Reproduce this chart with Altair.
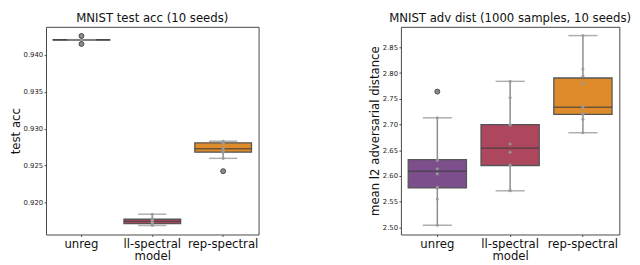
import altair as alt
import numpy as np
import pandas as pd

models = ["unreg", "ll-spectral", "rep-spectral"]
colors = ["#7c4f8c", "#ad475e", "#de8b2b"]

# MNIST test accuracy, 10 seeds per model
acc_unreg = [0.94148, 0.94199, 0.94201, 0.94202, 0.94203, 0.94203, 0.94204, 0.94205, 0.94206, 0.94257]
acc_ll = [0.91692, 0.91705, 0.91715, 0.91727, 0.91745, 0.91749, 0.91770, 0.91778, 0.91790, 0.91844]
acc_rep = [0.92426, 0.92600, 0.92680, 0.92696, 0.92720, 0.92740, 0.92805, 0.92812, 0.92820, 0.92832]

# mean l2 adversarial distance, 10 seeds per model
dist_unreg = [2.504, 2.555, 2.576, 2.578, 2.604, 2.614, 2.630, 2.632, 2.713, 2.764]
dist_ll = [2.571, 2.572, 2.620, 2.621, 2.646, 2.662, 2.699, 2.700, 2.752, 2.784]
dist_rep = [2.684, 2.710, 2.719, 2.722, 2.732, 2.735, 2.780, 2.794, 2.808, 2.873]

acc_ticks = [0.920, 0.925, 0.930, 0.935, 0.940]
dist_ticks = [2.50, 2.55, 2.60, 2.65, 2.70, 2.75, 2.80, 2.85]

FONT = "DejaVu Sans"
H = 213


def frames(series):
    raw, st, out = [], [], []
    for m, vals in zip(models, series):
        a = np.array(vals)
        q1, med, q3 = np.percentile(a, [25, 50, 75])
        iqr = q3 - q1
        inside = a[(a >= q1 - 1.5 * iqr) & (a <= q3 + 1.5 * iqr)]
        lo, hi = inside.min(), inside.max()
        st.append(dict(model=m, q1=q1, med=med, q3=q3, lo=lo, hi=hi))
        for v in a:
            raw.append(dict(model=m, value=v))
            if v < lo or v > hi:
                out.append(dict(model=m, value=v))
    return pd.DataFrame(raw), pd.DataFrame(st), pd.DataFrame(out)


def panel(series, title, ytitle, domain, ticks, fmt, width):
    raw, st, out = frames(series)
    band = width / 3.0
    bw = band * 0.8
    xenc = alt.X("model:N", sort=models,
                 scale=alt.Scale(domain=models, paddingInner=0, paddingOuter=0),
                 axis=alt.Axis(title="model", labelAngle=0, labelFontSize=12, labelPadding=2,
                               titlePadding=2, tickSize=2, domain=False, labelColor="#111",
                               tickColor="#444", titleFontSize=12))
    yscale = alt.Scale(domain=domain, nice=False, zero=False)
    yaxis = alt.Axis(title=ytitle, values=ticks, format=fmt, labelFontSize=7, labelPadding=1.5,
                     titlePadding=1, tickSize=2, domain=False, grid=False, labelColor="#222",
                     tickColor="#444", titleFontSize=12)
    cscale = alt.Scale(domain=models, range=colors)

    sb = alt.Chart(st)
    whisk = sb.mark_rule(color="#8c8c8c", strokeWidth=1.5).encode(
        x=xenc, y=alt.Y("lo:Q", scale=yscale, axis=yaxis), y2="hi:Q")
    cap_lo = sb.mark_tick(size=bw / 2, thickness=1.5, color="#8c8c8c").encode(
        x=xenc, y=alt.Y("lo:Q", scale=yscale, axis=yaxis))
    cap_hi = sb.mark_tick(size=bw / 2, thickness=1.5, color="#8c8c8c").encode(
        x=xenc, y=alt.Y("hi:Q", scale=yscale, axis=yaxis))
    box = sb.mark_bar(size=bw, stroke="#555555", strokeWidth=1.3).encode(
        x=xenc, y=alt.Y("q1:Q", scale=yscale, axis=yaxis), y2="q3:Q",
        color=alt.Color("model:N", scale=cscale, legend=None))
    med = sb.mark_tick(size=bw, thickness=1.5, color="#3d3d3d").encode(
        x=xenc, y=alt.Y("med:Q", scale=yscale, axis=yaxis))
    pts = alt.Chart(raw).mark_circle(size=10, color="#9a9a9a", opacity=0.9).encode(
        x=xenc, y=alt.Y("value:Q", scale=yscale, axis=yaxis))
    outl = alt.Chart(out).mark_point(filled=True, size=26, fill="#8a8a8a", stroke="#4a4a4a",
                                     strokeWidth=1, opacity=1).encode(
        x=xenc, y=alt.Y("value:Q", scale=yscale, axis=yaxis))
    return alt.layer(whisk, box, med, cap_lo, cap_hi, pts, outl).properties(
        width=width, height=H,
        title=alt.TitleParams(title, fontSize=12, fontWeight="normal", font=FONT,
                              offset=2, anchor="middle", color="#111"))


left = panel([acc_unreg, acc_ll, acc_rep], "MNIST test acc (10 seeds)", "test acc",
             [0.915696, 0.943797], acc_ticks, ".3f", 218)
right = panel([dist_unreg, dist_ll, dist_rep], "MNIST adv dist (1000 samples, 10 seeds)",
              "mean l2 adversarial distance", [2.48598, 2.89006], dist_ticks, ".2f", 224)

chart = alt.hconcat(left, right, spacing=111).properties(
    padding={"left": 0, "top": 0, "right": 0, "bottom": 0}
).configure(font=FONT).configure_view(
    stroke="#444", strokeWidth=1
).configure_axis(
    labelFont=FONT, titleFont=FONT, titleFontWeight="normal", titleColor="#111"
)

chart.save("out.html", embed_options={"renderer": "svg", "actions": False})
